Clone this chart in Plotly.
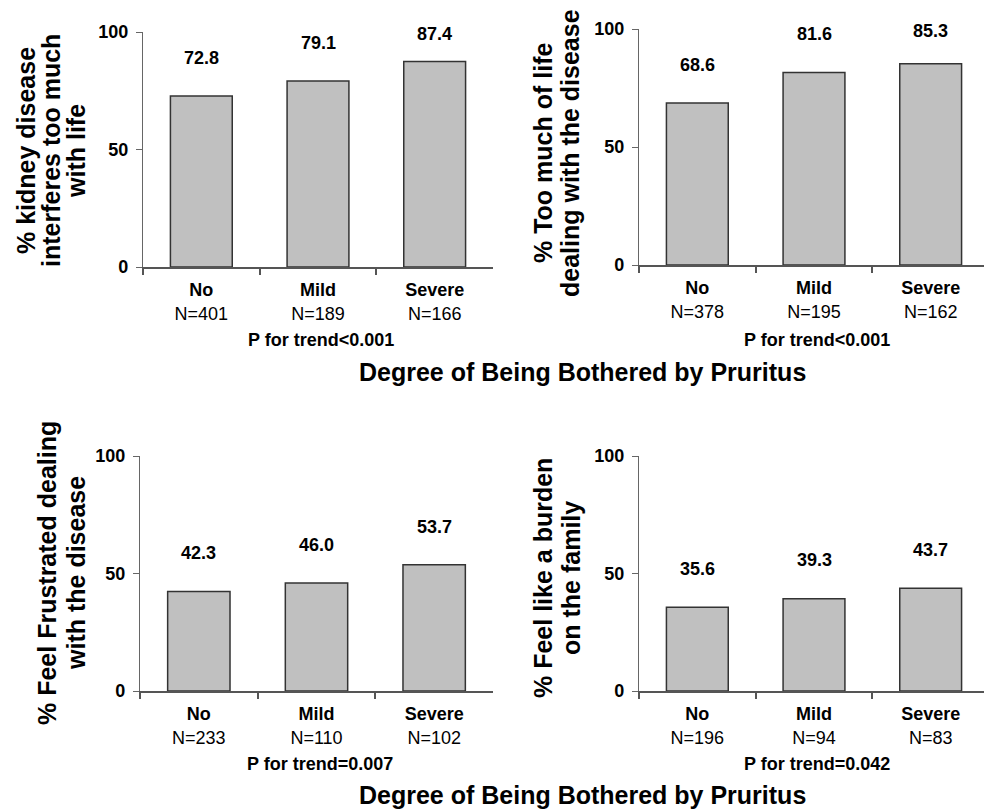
import plotly.graph_objects as go

# ---------------- data ----------------
categories = ["No", "Mild", "Severe"]

values_interferes = [72.8, 79.1, 87.4]
n_interferes = [401, 189, 166]
p_interferes = "P for trend<0.001"
title_interferes = ["% kidney disease", "interferes too much", "with life"]

values_toomuch = [68.6, 81.6, 85.3]
n_toomuch = [378, 195, 162]
p_toomuch = "P for trend<0.001"
title_toomuch = ["% Too much of life", "dealing with the disease"]

values_frustrated = [42.3, 46.0, 53.7]
n_frustrated = [233, 110, 102]
p_frustrated = "P for trend=0.007"
title_frustrated = ["% Feel Frustrated dealing", "with the disease"]

values_burden = [35.6, 39.3, 43.7]
n_burden = [196, 94, 83]
p_burden = "P for trend=0.042"
title_burden = ["% Feel like a burden", "on the family"]

y_ticks = [0, 50, 100]
x_title = "Degree of Being Bothered by Pruritus"

# ---------------- layout geometry (pixels of the 992x809 window) ----------------
PAGE_OFF = 8                 # default body margin of the html page
W, H = 992 - PAGE_OFF, 809 - PAGE_OFF
FONT = "Arial, Liberation Sans, sans-serif"


def fx(p):
    return (p - PAGE_OFF) / W


def fy(p):
    return 1 - (p - PAGE_OFF) / H


panels = [
    dict(vals=values_interferes, ns=n_interferes, p=p_interferes, title=title_interferes,
         x0=143, x1=493, ytop=32, ybot=267, title_x=[26, 51, 76], title_y=151, p_y=340),
    dict(vals=values_toomuch, ns=n_toomuch, p=p_toomuch, title=title_toomuch,
         x0=639, x1=989, ytop=29, ybot=265, title_x=[543, 570], title_y=153, p_y=340),
    dict(vals=values_frustrated, ns=n_frustrated, p=p_frustrated, title=title_frustrated,
         x0=140, x1=493, ytop=456, ybot=691, title_x=[47, 76], title_y=573, p_y=764),
    dict(vals=values_burden, ns=n_burden, p=p_burden, title=title_burden,
         x0=639, x1=989, ytop=456, ybot=691, title_x=[543, 571], title_y=578, p_y=764),
]

fig = go.Figure()
annotations = []
layout_axes = {}

for i, pn in enumerate(panels):
    k = "" if i == 0 else str(i + 1)
    xref, yref = "x" + k, "y" + k
    fig.add_trace(go.Bar(
        x=categories, y=pn["vals"], xaxis=xref, yaxis=yref,
        width=0.53,
        marker=dict(color="#c0c0c0", line=dict(color="#333333", width=1.5)),
        showlegend=False, hoverinfo="skip",
    ))
    ticktext = [f"<b>{c}</b><br>N={n}" for c, n in zip(categories, pn["ns"])]
    layout_axes["xaxis" + k] = dict(
        domain=[fx(pn["x0"]), min(fx(pn["x1"]), 1)], anchor=yref, type="category",
        range=[-0.5, 2.5], tickmode="array", tickvals=categories, ticktext=ticktext,
        tickson="boundaries", ticks="outside", ticklen=6, tickwidth=1.5, tickcolor="#555555",
        showline=True, linecolor="#555555", linewidth=1.5, showgrid=False, zeroline=False,
        tickfont=dict(size=18, color="black", family=FONT), fixedrange=True,
        ticklabelstandoff=6, automargin=False,
    )
    layout_axes["yaxis" + k] = dict(
        domain=[fy(pn["ybot"]), fy(pn["ytop"])], anchor=xref, range=[0, 100],
        tickmode="array", tickvals=y_ticks, ticktext=[f"<b>{t}</b>" for t in y_ticks],
        ticks="outside", ticklen=6, tickwidth=1.2, tickcolor="#666666",
        showline=True, linecolor="#666666", linewidth=1.2, showgrid=False, zeroline=False,
        tickfont=dict(size=18, color="black", family=FONT), fixedrange=True,
        ticklabelstandoff=4, automargin=False,
    )
    # value labels above bars
    for c, v in zip(categories, pn["vals"]):
        annotations.append(dict(
            x=c, y=min(v + 16.3, 99.2), xref=xref, yref=yref, text=f"<b>{v:.1f}</b>",
            showarrow=False, xanchor="center", yanchor="middle",
            font=dict(size=18, color="black", family=FONT),
        ))
    # rotated y titles, one annotation per line
    for line, tx in zip(pn["title"], pn["title_x"]):
        annotations.append(dict(
            x=fx(tx), y=fy(pn["title_y"]), xref="paper", yref="paper",
            text=f"<b>{line}</b>", textangle=-90, showarrow=False,
            xanchor="center", yanchor="middle",
            font=dict(size=25, color="black", family=FONT),
        ))
    # p for trend
    annotations.append(dict(
        x=fx((pn["x0"] + pn["x1"]) / 2 + 3), y=fy(pn["p_y"]), xref="paper", yref="paper",
        text=f"<b>{pn['p']}</b>", showarrow=False, xanchor="center", yanchor="middle",
        font=dict(size=18, color="black", family=FONT),
    ))

for ty in (372, 795):
    annotations.append(dict(
        x=fx(582), y=fy(ty), xref="paper", yref="paper", text=f"<b>{x_title}</b>",
        showarrow=False, xanchor="center", yanchor="middle",
        font=dict(size=25, color="black", family=FONT),
    ))

fig.update_layout(
    template="none",
    width=W, height=H, margin=dict(l=0, r=0, t=0, b=0, pad=0, autoexpand=False),
    paper_bgcolor="white", plot_bgcolor="white",
    font=dict(family=FONT, color="black"),
    annotations=annotations, **layout_axes,
)

fig.write_html("out.html", config={"displayModeBar": False})
